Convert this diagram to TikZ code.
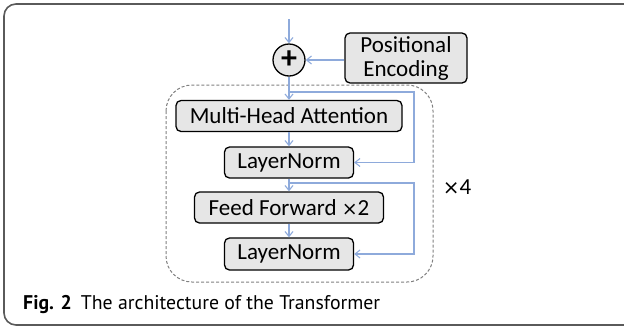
\documentclass[tikz,border=0pt]{standalone}
\usepackage{fontspec}
\setmainfont{Carlito}
\newfontfamily\capfont{PT Sans}
\newfontfamily\symfont{DejaVu Sans}
\usetikzlibrary{arrows.meta}
\definecolor{flow}{RGB}{142,170,219}
\definecolor{boxfill}{RGB}{230,230,230}
\definecolor{framegray}{RGB}{90,90,90}
\tikzset{
  layer/.style={draw=black, line width=1.3pt, fill=boxfill, rounded corners=5pt,
    inner sep=0pt, font=\fontsize{23}{26}\selectfont},
  flowline/.style={draw=flow, line width=1.1pt},
  flowarrow/.style={flowline, -{Straight Barb[length=5pt,width=8pt]}},
}
\begin{document}
\begin{tikzpicture}[x=1pt,y=-1pt]
\useasboundingbox (0,0) rectangle (624,330);
% outer frame, open on the right
\draw[framegray, line width=1.6pt, rounded corners=12pt] (626,4) -- (4,4) -- (4,325) -- (626,325);
% repeated block
\draw[gray, line width=1pt, dash pattern=on 3pt off 2pt, rounded corners=26pt]
  (166,85) rectangle (433,282);
\node[font=\fontsize{23}{26}\selectfont] (rep) at (457,187) {{\symfont\fontsize{20}{26}\selectfont×}4};

\node[draw=black, line width=1.3pt, fill=boxfill, circle, minimum size=32pt, inner sep=0pt,
  font=\bfseries\fontsize{32}{32}\selectfont] (add) at (289,60) {\raisebox{1pt}{+}};
\node[layer, minimum width=122pt, minimum height=50pt, align=center,
  font=\fontsize{23}{24}\selectfont] (pe) at (406,58) {Positional\\Encoding};
\node[layer, minimum width=226pt, minimum height=31pt] (mha) at (289,116) {Multi-Head Attention};
\node[layer, minimum width=129pt, minimum height=31pt] (ln1) at (289,162.5) {LayerNorm};
\node[layer, minimum width=189pt, minimum height=31pt] (ff) at (289,207.5) {Feed Forward {\symfont\fontsize{19}{26}\selectfont×}2};
\node[layer, minimum width=129pt, minimum height=32pt] (ln2) at (289,254) {LayerNorm};

\coordinate (in) at (289,19);
\coordinate (b1) at (289,92);
\coordinate (b2) at (289,183);

\draw[flowarrow] (in) -- (add);
\draw[flowarrow] (pe.west |- add) -- (add);
\draw[flowarrow] (add) -- (mha);
\draw[flowarrow] (mha) -- (ln1);
\draw[flowarrow] (ln1) -- (ff);
\draw[flowarrow] (ff) -- (ln2);
\draw[flowarrow] (b1) -- (414,92) -- (414,162.5) -- (ln1.east);
\draw[flowarrow] (b2) -- (414,183) -- (414,254) -- (ln2.east);

\node[anchor=base west, font=\capfont\fontsize{19.8}{22}\selectfont, inner sep=0pt] (cap) at (23,309)
  {\textbf{Fig. 2}\hspace{0.45em}The architecture of the Transformer};
\end{tikzpicture}
\end{document}
